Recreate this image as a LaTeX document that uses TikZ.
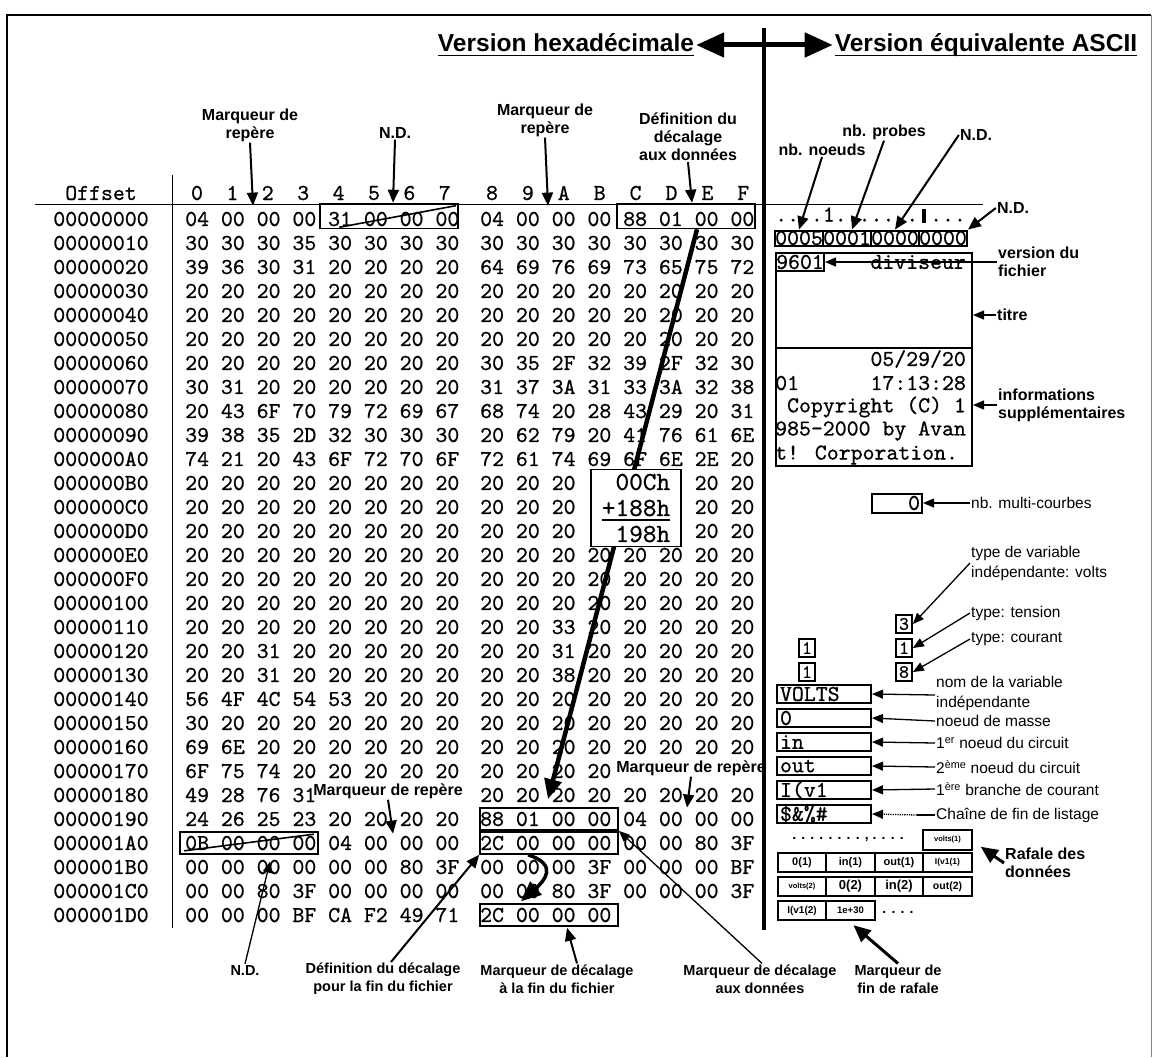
\documentclass[tikz,border=0pt]{standalone}
\usepackage{fontspec}
\setmainfont{Liberation Sans}
\newfontfamily\hexfam{lmmono10-regular}[Extension=.otf, FakeBold=0.7]
\usetikzlibrary{arrows.meta, positioning, calc}

\newcommand{\hexfont}{\fontsize{22.7}{24}\selectfont\hexfam}
\newcommand{\ulined}[1]{\setbox0=\hbox{#1}\rlap{\rule[-5pt]{\wd0}{1.6pt}}\box0}
\newcommand{\blk}{\makebox[0.525em]{\rule[-1pt]{4pt}{14pt}}}

\tikzset{
  hex/.style={font=\hexfont, anchor=west, inner sep=0pt},
  title/.style={font=\fontsize{24.5}{26}\selectfont\bfseries, inner sep=2pt},
  lbl/.style={font=\fontsize{16}{18}\selectfont\bfseries, align=center, inner sep=1pt},
  blbl/.style={lbl, font=\fontsize{14.5}{18}\selectfont\bfseries},
  note/.style={font=\fontsize{15.5}{20}\selectfont, align=left, anchor=west, inner sep=1pt},
  grp/.style={draw, line width=1.6pt, minimum width=138pt, minimum height=22pt, inner sep=0pt},
  abox/.style={draw, line width=2pt, minimum width=48pt, minimum height=15pt, inner sep=0pt, font=\hexfont},
  nbox/.style={draw, line width=2pt, anchor=west, minimum height=18pt, text width=88pt,
               inner xsep=3pt, inner ysep=0pt, align=left, font=\hexfont},
  sbox/.style={draw, line width=1.8pt, minimum width=16pt, minimum height=18pt, inner sep=0pt,
               font=\fontsize{19}{19}\selectfont\hexfam},
  bbox/.style={draw, line width=2pt, minimum width=48.5pt, minimum height=19.5pt, inner sep=0pt},
  sumbox/.style={draw, fill=white, line width=1.6pt, font=\fontsize{26}{26}\selectfont\hexfam,
                 align=right, minimum width=90pt, minimum height=77pt, inner xsep=8pt, inner ysep=1pt},
  arr/.style={line width=2pt, -{Triangle[length=13pt,width=11pt]}},
  tarr/.style={line width=1.3pt, -{Triangle[length=11pt,width=9pt]}},
  midarr/.style={line width=3pt, -{Triangle[length=17pt,width=15pt]}},
  bigarr/.style={line width=4.5pt, -{Triangle[length=20pt,width=17pt]}},
  dblarr/.style={line width=5pt, {Triangle[length=28pt,width=24pt]}-{Triangle[length=28pt,width=24pt]}}
}

\begin{document}
\begin{tikzpicture}[x=1pt, y=-1pt]
  \useasboundingbox (0,0) rectangle (1155,1057);
  % frame
  \draw[line width=1.5pt] (7,1057) -- (7,15) -- (1151,15);
  \draw[line width=0.6pt, gray] (1151,15) -- (1151,1057);

  % titles
  \node[title] (hexT) at (566,45) {\ulined{Version hexadécimale}};
  \node[title] (ascT) at (986,45) {\ulined{Version équivalente ASCII}};
  \draw[dblarr] (hexT.east) -- (ascT.west);
  \draw[line width=4pt] (764,28) -- (764,930);

  % header of the listing
  \node[hex, anchor=center] (offH) at (101,193) {Offset};
  \foreach \j in {0,...,7}{
    \node[hex, anchor=center] (hl\j) at ({197+35.4*\j},193) {\j};
  }
  \foreach \j/\c in {0/8,1/9,2/A,3/B,4/C,5/D,6/E,7/F}{
    \node[hex, anchor=center] (hr\j) at ({492+35.9*\j},193) {\c};
  }
  \draw[line width=1pt] (35,204) -- (983,204);
  \draw[line width=1pt] (172,175) -- (172,928);

  % rows: offset / left half / right half
  \foreach \i/\o/\lh/\rh in {
    0/00000000/04 00 00 00 31 00 00 00/04 00 00 00 88 01 00 00,
    1/00000010/30 30 30 35 30 30 30 30/30 30 30 30 30 30 30 30,
    2/00000020/39 36 30 31 20 20 20 20/64 69 76 69 73 65 75 72,
    3/00000030/20 20 20 20 20 20 20 20/20 20 20 20 20 20 20 20,
    4/00000040/20 20 20 20 20 20 20 20/20 20 20 20 20 20 20 20,
    5/00000050/20 20 20 20 20 20 20 20/20 20 20 20 20 20 20 20,
    6/00000060/20 20 20 20 20 20 20 20/30 35 2F 32 39 2F 32 30,
    7/00000070/30 31 20 20 20 20 20 20/31 37 3A 31 33 3A 32 38,
    8/00000080/20 43 6F 70 79 72 69 67/68 74 20 28 43 29 20 31,
    9/00000090/39 38 35 2D 32 30 30 30/20 62 79 20 41 76 61 6E,
    10/000000A0/74 21 20 43 6F 72 70 6F/72 61 74 69 6F 6E 2E 20,
    11/000000B0/20 20 20 20 20 20 20 20/20 20 20 ~~~~~~~~ 20 20,
    12/000000C0/20 20 20 20 20 20 20 20/20 20 20 ~~~~~~~~ 20 20,
    13/000000D0/20 20 20 20 20 20 20 20/20 20 20 ~~~~~~~~ 20 20,
    14/000000E0/20 20 20 20 20 20 20 20/20 20 20 20 20 20 20 20,
    15/000000F0/20 20 20 20 20 20 20 20/20 20 20 20 20 20 20 20,
    16/00000100/20 20 20 20 20 20 20 20/20 20 20 20 20 20 20 20,
    17/00000110/20 20 20 20 20 20 20 20/20 20 33 20 20 20 20 20,
    18/00000120/20 20 31 20 20 20 20 20/20 20 31 20 20 20 20 20,
    19/00000130/20 20 31 20 20 20 20 20/20 20 38 20 20 20 20 20,
    20/00000140/56 4F 4C 54 53 20 20 20/20 20 20 20 20 20 20 20,
    21/00000150/30 20 20 20 20 20 20 20/20 20 20 20 20 20 20 20,
    22/00000160/69 6E 20 20 20 20 20 20/20 20 20 20 20 20 20 20,
    23/00000170/6F 75 74 20 20 20 20 20/20 20 20 20,
    24/00000180/49 28 76 31/20 20 20 20 20 20 20 20,
    25/00000190/24 26 25 23 20 20 20 20/88 01 00 00 04 00 00 00,
    26/000001A0/0B 00 00 00 04 00 00 00/2C 00 00 00 00 00 80 3F,
    27/000001B0/00 00 00 00 00 00 80 3F/00 00 00 3F 00 00 00 BF,
    28/000001C0/00 00 80 3F 00 00 00 00/00 00 80 3F 00 00 00 3F,
    29/000001D0/00 00 00 BF CA F2 49 71/2C 00 00 00}{
    \node[hex, anchor=center] (O\i) at (101,{219+24*\i}) {\o};
    \node[hex] (L\i) at (185,{219+24*\i}) {\lh};
    \node[hex] (R\i) at (480,{219+24*\i}) {\rh};
  }

  % framed byte groups
  \node[grp, minimum height=25pt] (g0l) at (389,216) {};
  \node[grp, minimum height=25pt] (g0r) at (686,216) {};
  \node[grp] (g25r) at (549,819) {};
  \node[grp] (g26l) at (249,843) {};
  \node[grp] (g26r) at (549,843) {};
  \node[grp] (g29r) at (549,915) {};
  \draw[line width=1.6pt] ($(g0l.south west)+(20,-2)$) -- ($(g0l.north east)+(-3,3)$);
  \draw[line width=1.6pt] ($(g26l.south west)+(5,-4)$) -- ($(g26l.north east)+(-5,3)$);

  % offset computation
  \draw[bigarr] ($(g0r.south)+(11,0)$) -- ($(g25r.north)+(-1,-8)$);
  \node[sumbox] (sum) at (636,508) {00Ch\\\ulined{+188h}\\198h};
  \draw[bigarr, line width=3.5pt] ($(g26r.south)+(-21,0)$) .. controls ($(g26r.south)+(10,10)$)
    and ($(g29r.north)+(-5,-22)$) .. ($(g29r.north)+(-28,-2)$);

  % labels above the listing
  \node[lbl] (mrL) at (250,125) {Marqueur de\\repère};
  \node[lbl] (ndL) at (395,133) {N.D.};
  \node[lbl] (mrR) at (545,120) {Marqueur de\\repère};
  \node[lbl] (defR) at (688,137) {Définition du\\décalage\\aux données};
  \draw[arr] (mrL.south) -- ($(L0.north west)+(68,-6)$);
  \draw[arr] (ndL.south) -- ($(g0l.north)+(4,0)$);
  \draw[arr] (mrR.south) -- ($(R0.north west)+(68,-6)$);
  \draw[arr] (defR.south) -- ($(g0r.north)+(6,0)$);

  % labels inside the listing
  \node[lbl] (mr170) at (691,768) {Marqueur de repère};
  \node[lbl] (mr180) at (388,791) {Marqueur de repère};
  \draw[arr] (mr170.south) -- ($(R25.north west)+(207,-4)$);
  \draw[arr] (mr180.south) -- ($(L26.north west)+(208,-2)$);

  % labels below the listing
  \node[blbl] (ndB) at (245,970) {N.D.};
  \node[blbl] (defB) at (383,979) {Définition du décalage\\pour la fin du fichier};
  \node[blbl] (mdfB) at (557,979) {Marqueur de décalage\\à la fin du fichier};
  \node[blbl] (mdaB) at (760,979) {Marqueur de décalage\\aux données};
  \node[blbl] (mfrB) at (898,979) {Marqueur de\\fin de rafale};
  \draw[tarr] (ndB.north) -- ($(L27.north west)+(85,2)$);
  \draw[arr] ($(defB.north)+(8,0)$) -- (g26r.south west);
  \draw[arr] ($(mdfB.north)+(20,0)$) -- ($(g29r.south)+(18,1)$);
  \draw[tarr] ($(mdaB.north)+(2,0)$) -- (g25r.south east);

  % ASCII side: file header
  \node[hex] (a0) at (775,215) {....1.......\blk...};
  \foreach \k/\t/\n in {0/0005/nbn, 1/0001/nbp, 2/0000/ndA, 3/0000/ndB}{
    \node[abox] (\n) at ({799+48*\k},238) {\t};
  }
  \node[draw, line width=2pt, minimum width=196pt, minimum height=213pt, inner sep=0pt,
        anchor=north west] (hdr) at (775,252) {};
  \draw[line width=2pt] ($(hdr.north west)+(0,96)$) -- ($(hdr.north east)+(0,96)$);
  \node[abox, minimum height=18pt, anchor=north west] (ver) at (775,252) {9601};
  \node[hex, anchor=east] (div) at (966,262) {diviseur};
  \node[hex, anchor=east] (a6) at (966,359) {05/29/20};
  \node[hex] (a7) at (775,383) {01~~~~~~17:13:28};
  \node[hex] (a8) at (775,407) {~Copyright (C) 1};
  \node[hex] (a9) at (775,431) {985-2000 by Avan};
  \node[hex] (a10) at (775,455) {t! Corporation.};

  \node[lbl] (nbnL) at (822,150) {nb. noeuds};
  \node[lbl] (nbpL) at (884,132) {nb. probes};
  \node[lbl] (ndL2) at (976,135) {N.D.};
  \node[lbl] (ndL3) at (1013,208) {N.D.};
  \draw[arr] (nbnL.south) -- (nbn.north);
  \draw[arr] (nbpL.south) -- ($(nbp.north)+(5,0)$);
  \draw[arr] (ndL2.west) -- (ndA.north);
  \draw[arr] (ndL3.west) -- (ndB.north east);

  \node[lbl, anchor=west, align=left] (verL) at (997,262) {version du\\fichier};
  \node[lbl, anchor=west] (titL) at (996,315) {titre};
  \node[lbl, anchor=west, align=left] (infL) at (997,405) {informations\\supplémentaires};
  \draw[tarr] (verL.west) -- (ver.east);
  \draw[tarr] (titL.west) -- (titL.west -| hdr.east);
  \draw[tarr] (infL.west) -- (infL.west -| hdr.east);

  % ASCII side: curves and variables
  \node[abox, minimum width=50pt, minimum height=19pt, text width=46pt, inner xsep=2pt,
        align=right] (mcb) at (897,503) {0};
  \node[note] (mcbL) at (970,503) {nb. multi-courbes};
  \draw[tarr] (mcbL.west) -- (mcb.east);

  \node[sbox] (b3) at (904,624) {3};
  \node[sbox] (b1r) at (904,648) {1};
  \node[sbox] (b8) at (904,672) {8};
  \node[sbox] (b1a) at (807,648) {1};
  \node[sbox] (b1b) at (807,672) {1};
  \node[note] (tvL) at (970,563) {type de variable\\indépendante: volts};
  \node[note] (ttL) at (970,613) {type: tension};
  \node[note] (tcL) at (970,639) {type: courant};
  \draw[tarr] (tvL.west) -- (b3.east);
  \draw[tarr] (ttL.west) -- (b1r.east);
  \draw[tarr] (tcL.west) -- (b8.east);

  \foreach \i/\t/\n in {20/VOLTS/vb, 21/0/gb, 22/in/ib, 23/out/ob, 24/I(v1/cb}{
    \node[nbox] (\n) at (776,{214+24*\i}) {\t};
  }
  \node[nbox] (eb) at (776,814) {\$\&\%\#};
  \node[note] (vbL) at (935,693) {nom de la variable\\indépendante};
  \node[note] (gbL) at (935,721) {noeud de masse};
  \node[note] (ibL) at (935,743) {1\textsuperscript{er} noeud du circuit};
  \node[note] (obL) at (935,767) {2\textsuperscript{ème} noeud du circuit};
  \node[note] (cbL) at (935,789) {1\textsuperscript{ère} branche de courant};
  \node[note] (ebL) at (935,815) {Chaîne de fin de listage};
  \draw[tarr] ($(vbL.west)+(0,2)$) -- (vb.east);
  \draw[tarr] (gbL.west) -- (gb.east);
  \draw[tarr] (ibL.west) -- (ib.east);
  \draw[tarr] (obL.west) -- (ob.east);
  \draw[tarr] (cbL.west) -- (cb.east);
  \coordinate (ebD) at (917,815);
  \draw[line width=1.3pt] (ebL.west) -- (ebD);
  \draw[tarr, densely dotted] (ebD) -- (eb.east);

  % data burst
  \node[font=\fontsize{14}{14}\selectfont\bfseries] (dA) at (848,840) {. . . . . . . . , . . . .};
  \node[bbox, font=\fontsize{7.5}{8}\selectfont\bfseries] (v1) at (947.5,840) {volts(1)};
  \foreach \k/\s/\t/\n in {0/11/0(1)/pa, 1/11/in(1)/pb, 2/11/out(1)/pc, 3/8.5/I(v1(1)/pd}{
    \node[bbox, font=\fontsize{\s}{\s}\selectfont\bfseries] (\n) at ({802+48.5*\k},862.5) {\t};
  }
  \foreach \k/\s/\t/\n in {0/7.5/volts(2)/qa, 1/13/0(2)/qb, 2/13/in(2)/qc, 3/10.5/out(2)/qd}{
    \node[bbox, font=\fontsize{\s}{\s}\selectfont\bfseries] (\n) at ({802+48.5*\k},886.5) {\t};
  }
  \node[bbox, font=\fontsize{10}{10}\selectfont\bfseries] (cv2) at (802,910.5) {I(v1(2)};
  \node[bbox, font=\fontsize{9.5}{10}\selectfont\bfseries] (e30) at (850.5,910.5) {1e+30};
  \node[font=\fontsize{14}{14}\selectfont\bfseries] (dC) at (898,912) {. . . .};

  \node[lbl, anchor=west, align=left] (rafL) at (1004,863) {Rafale des\\données};
  \draw[midarr] (rafL.west) -- ($(v1.south east)+(8,-4)$);
  \draw[midarr] (mfrB.north) -- ($(e30.south)+(3,4)$);
\end{tikzpicture}
\end{document}
